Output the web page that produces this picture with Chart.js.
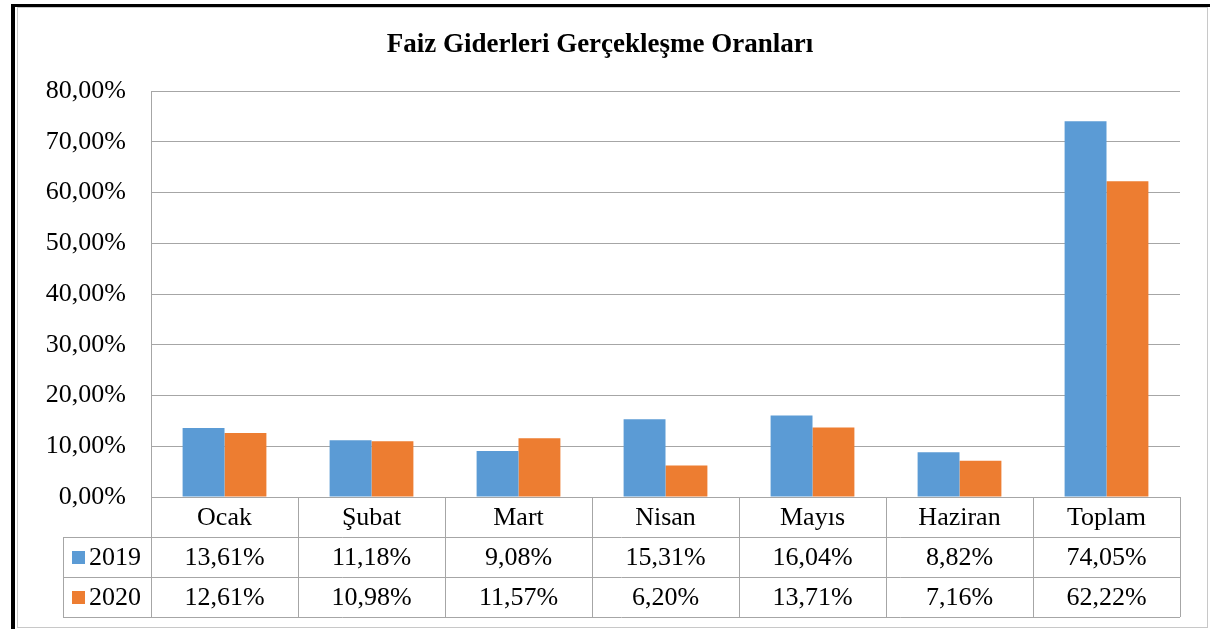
<!DOCTYPE html>
<html>
<head>
<meta charset="utf-8">
<script src="https://cdn.jsdelivr.net/npm/chart.js@4/dist/chart.umd.min.js"></script>
<style>
  html, body { margin: 0; padding: 0; background: #fff; }
  #wrap { position: relative; width: 1210px; height: 629px; }
</style>
</head>
<body>
<div id="wrap"><canvas id="chart" width="1210" height="629"></canvas></div>
<script>
// veriler (yüzde olarak)
const aylar = ["Ocak", "Şubat", "Mart", "Nisan", "Mayıs", "Haziran", "Toplam"];
const yillar = ["2019", "2020"];
const oran2019 = [13.61, 11.18, 9.08, 15.31, 16.04, 8.82, 74.05];
const oran2020 = [12.61, 10.98, 11.57, 6.20, 13.71, 7.16, 62.22];
const renkler = ["#5B9BD5", "#ED7D31"];

const FONT = "'Liberation Serif', 'Times New Roman', serif";
const GRI = "#a6a6a6";

const fmt = (v) => v.toFixed(2).replace(".", ",") + "%";

// ── çerçeve + alttaki veri tablosu ──────────────────────────
const tabloPlugin = {
  id: "tablo",
  beforeDraw(chart) {
    const c = chart.ctx;
    c.save();
    c.fillStyle = "#fff";
    c.fillRect(0, 0, chart.width, chart.height);
    c.strokeStyle = "#c8c8c8";
    c.lineWidth = 1;
    c.strokeRect(17.5, 7.5, 1190, 620);
    c.fillStyle = "#000";
    c.fillRect(11, 4, 4, 625);
    c.fillRect(11, 4, 1199, 3);
    c.restore();
  },
  afterDraw(chart) {
    const c = chart.ctx;
    const area = chart.chartArea;
    const x = chart.scales.x;
    const rowH = 40;
    const top = area.bottom;
    const legL = 63;
    const step = (area.right - area.left) / aylar.length;
    c.save();
    c.strokeStyle = GRI;
    c.lineWidth = 1;
    c.beginPath();
    // yatay çizgiler
    for (let r = 1; r <= 3; r++) {
      const y = Math.round(top + r * rowH) + 0.5;
      c.moveTo(legL, y);
      c.lineTo(area.right, y);
    }
    // dikey çizgiler
    c.moveTo(legL + 0.5, top + rowH);
    c.lineTo(legL + 0.5, top + 3 * rowH);
    for (let i = 0; i <= aylar.length; i++) {
      const vx = Math.round(area.left + i * step) + 0.5;
      c.moveTo(vx, top);
      c.lineTo(vx, top + 3 * rowH);
    }
    c.stroke();

    c.fillStyle = "#000";
    c.font = "26px " + FONT;
    c.textAlign = "center";
    c.textBaseline = "middle";
    aylar.forEach((a, i) => {
      const cx = x.getPixelForValue(i);
      c.fillText(a, cx, top + rowH / 2 + 1);
      c.fillText(fmt(oran2019[i]), cx, top + rowH * 1.5 + 1);
      c.fillText(fmt(oran2020[i]), cx, top + rowH * 2.5 + 1);
    });
    // lejant
    yillar.forEach((y, r) => {
      const cy = top + rowH * (1.5 + r);
      c.fillStyle = renkler[r];
      c.fillRect(72, cy - 6, 13, 13);
      c.fillStyle = "#000";
      c.textAlign = "left";
      c.fillText(y, 89, cy + 1);
    });
    c.restore();
  }
};

new Chart(document.getElementById("chart"), {
  type: "bar",
  data: {
    labels: aylar,
    datasets: [
      { label: yillar[0], data: oran2019, backgroundColor: renkler[0] },
      { label: yillar[1], data: oran2020, backgroundColor: renkler[1] }
    ]
  },
  options: {
    responsive: false,
    animation: false,
    devicePixelRatio: 1,
    layout: { padding: { left: 20, right: 30, top: 0, bottom: 0 } },
    datasets: { bar: { categoryPercentage: 0.57, barPercentage: 1, borderWidth: 0 } },
    plugins: {
      legend: { display: false },
      tooltip: { enabled: false },
      title: {
        display: true,
        text: "Faiz Giderleri Gerçekleşme Oranları",
        color: "#000",
        font: { family: FONT, size: 27, weight: "bold" },
        padding: { top: 29, bottom: 29.6 }
      }
    },
    scales: {
      x: {
        ticks: { display: false },
        grid: { display: false, drawTicks: false },
        border: { display: false },
        afterFit: (s) => { s.height = 132; }
      },
      y: {
        min: 0,
        max: 80,
        ticks: {
          stepSize: 10,
          color: "#000",
          padding: 25,
          font: { family: FONT, size: 26 },
          callback: (v) => fmt(v)
        },
        grid: { color: GRI, drawTicks: false },
        border: { color: GRI },
        afterFit: (s) => { s.width = 131; }
      }
    }
  },
  plugins: [tabloPlugin]
});
</script>
</body>
</html>
